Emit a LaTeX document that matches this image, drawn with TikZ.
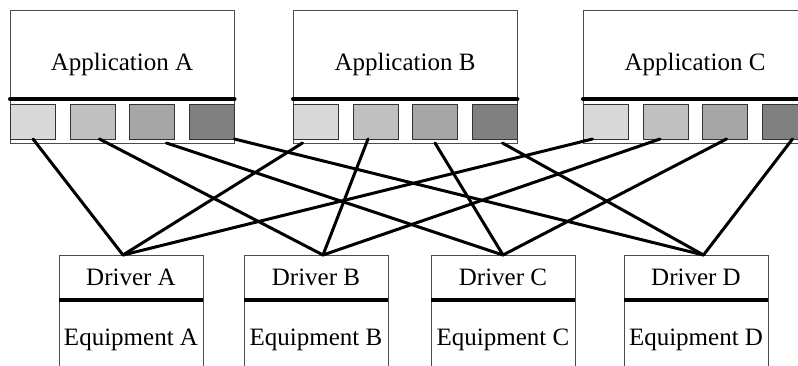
\documentclass[tikz,border=0pt]{standalone}
\usepackage{fontspec}
\setmainfont{Liberation Serif}
\usetikzlibrary{calc}

\definecolor{portone}{HTML}{D9D9D9}
\definecolor{porttwo}{HTML}{C0C0C0}
\definecolor{portthree}{HTML}{A6A6A6}
\definecolor{portfour}{HTML}{808080}

\tikzset{
  frame/.style={draw=black!70, line width=1pt, fill=white, inner sep=0pt, outer sep=0pt, anchor=north west},
  appbox/.style={frame, minimum width=224.5pt, minimum height=133pt},
  drvbox/.style={frame, minimum width=144pt, minimum height=130pt},
  port/.style={draw=black!80, line width=0.9pt, inner sep=0pt, outer sep=0pt, anchor=north west, minimum width=45pt, minimum height=35pt},
  divider/.style={line width=4pt, line cap=round},
  label/.style={font=\fontsize{25}{30}\selectfont, anchor=base, inner sep=0pt},
  link/.style={line width=3pt, line cap=round, black},
}

\begin{document}
\begin{tikzpicture}[x=1pt, y=-1pt]
  \useasboundingbox (0,0) rectangle (798,365);
  \fill[white] (0,0) rectangle (798,365);
  \clip (0,0) rectangle (798,365);

  % applications with their four ports
  \foreach \n/\x in {A/10, B/293, C/583} {
    \node[appbox] (app\n) at (\x,10) {};
    \node[label] (app\n txt) at (\x+112,70) {Application \n};
    \draw[divider] (app\n.north west |- 0,99) -- (app\n.north east |- 0,99);
    \node[port, fill=portone]   (p\n1) at (\x+0.5,104) {};
    \node[port, fill=porttwo]   (p\n2) at (\x+60,104) {};
    \node[port, fill=portthree] (p\n3) at (\x+119.5,104) {};
    \node[port, fill=portfour]  (p\n4) at (\x+179.5,104) {};
  }

  % drivers on top of their equipment
  \foreach \n/\x in {A/59, B/244, C/431, D/624} {
    \node[drvbox] (drv\n) at (\x,255) {};
    \draw[divider, line cap=butt] (drv\n.north west |- 0,300) -- (drv\n.north east |- 0,300);
    \node[label] (drv\n txt) at (\x+72,285) {Driver \n};
    \node[label] (eq\n txt) at (\x+72,345) {Equipment \n};
  }

  % connection points on the drivers
  \coordinate (tA) at ([xshift=-8pt]drvA.north);
  \coordinate (tB) at ([xshift=7pt]drvB.north);
  \coordinate (tC) at (drvC.north);
  \coordinate (tD) at ([xshift=7.5pt]drvD.north);

  % every port of every application reaches every driver
  \draw[link] (pA1.south) -- (tA);
  \draw[link] ([xshift=7pt]pA2.south) -- (tB);
  \draw[link] ([xshift=14.5pt, yshift=-4pt]pA3.south) -- (tC);
  \draw[link] (pA4.south east) -- (tD);

  \draw[link] ([xshift=-13.5pt, yshift=-4pt]pB1.south) -- (tA);
  \draw[link] ([xshift=-7.5pt]pB2.south) -- (tB);
  \draw[link] ([yshift=-4pt]pB3.south) -- (tC);
  \draw[link] ([xshift=7.5pt, yshift=-4pt]pB4.south) -- (tD);

  \draw[link] ([xshift=-13.5pt]pC1.south) -- (tA);
  \draw[link] ([xshift=-5.5pt]pC2.south) -- (tB);
  \draw[link] ([xshift=1.5pt]pC3.south) -- (tC);
  \draw[link] ([xshift=7.5pt]pC4.south) -- (tD);
\end{tikzpicture}
\end{document}
